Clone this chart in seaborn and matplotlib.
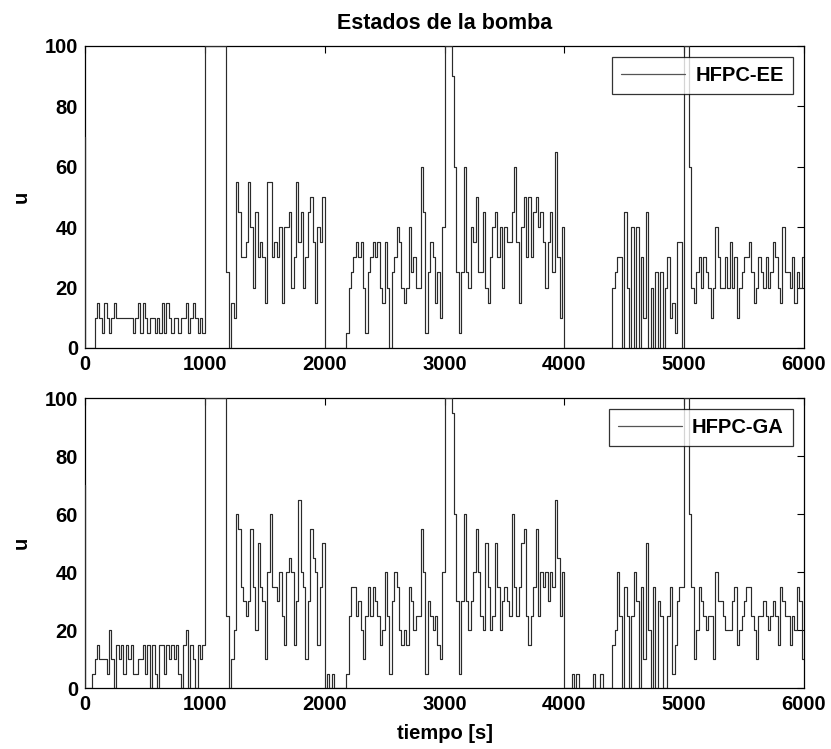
import numpy as np
import pandas as pd
import matplotlib
matplotlib.use('Agg')
import matplotlib.pyplot as plt
import seaborn as sns

# sample period [s] and value at t = 0 (both controllers start the same)
dt = 20
u_start = 70

# HFPC-EE, one list per 1000 s (value held over each 20 s step)
ee_0000 = [0, 0, 0, 0, 10, 15, 10, 5, 15, 10, 5, 10, 15, 10, 10, 10, 10, 10, 10, 10,
           5, 10, 15, 5, 15, 10, 5, 10, 10, 5, 10, 5, 15, 5, 15, 10, 5, 10, 10, 5,
           10, 10, 15, 5, 10, 15, 10, 5, 10, 5]
ee_1000 = [100, 100, 100, 100, 100, 100, 100, 100, 100, 25, 0, 15, 10, 55, 45, 30, 30, 35, 55, 40,
           20, 45, 30, 35, 30, 15, 55, 55, 30, 35, 30, 40, 15, 40, 40, 45, 20, 30, 55, 35,
           45, 20, 30, 45, 50, 35, 15, 40, 35, 50]
ee_2000 = [0, 0, 0, 0, 0, 0, 0, 0, 0, 5, 20, 25, 30, 35, 30, 35, 20, 5, 25, 30,
           35, 30, 35, 20, 15, 35, 20, 0, 25, 30, 40, 35, 20, 15, 20, 40, 25, 30, 20, 20,
           60, 45, 5, 25, 35, 30, 15, 25, 10, 40]
ee_3000 = [100, 100, 100, 90, 60, 25, 5, 25, 60, 25, 20, 40, 35, 50, 25, 25, 45, 20, 15, 30,
           40, 45, 30, 40, 20, 40, 35, 35, 45, 60, 35, 15, 40, 50, 30, 50, 30, 45, 50, 40,
           45, 35, 20, 35, 45, 25, 65, 30, 10, 40]
ee_4000 = [0, 0, 0, 0, 0, 0, 0, 0, 0, 0, 0, 0, 0, 0, 0, 0, 0, 0, 0, 0,
           20, 25, 30, 30, 0, 45, 20, 0, 40, 0, 40, 0, 30, 10, 45, 0, 20, 0, 25, 0,
           25, 0, 20, 30, 10, 15, 5, 35, 35, 0]
ee_5000 = [100, 100, 60, 20, 15, 25, 30, 20, 30, 25, 20, 10, 20, 40, 30, 20, 20, 30, 20, 35,
           20, 30, 10, 20, 25, 30, 30, 35, 25, 15, 20, 30, 25, 20, 30, 20, 25, 35, 30, 20,
           15, 40, 25, 25, 20, 30, 15, 25, 20, 30]

# HFPC-GA
ga_0000 = [0, 0, 0, 5, 10, 15, 10, 10, 10, 5, 20, 10, 0, 15, 10, 15, 5, 15, 10, 15,
           5, 5, 10, 10, 15, 5, 15, 0, 15, 5, 0, 15, 15, 5, 15, 10, 15, 10, 15, 5,
           0, 15, 20, 0, 15, 10, 0, 15, 10, 15]
ga_1000 = [100, 100, 100, 100, 100, 100, 100, 100, 100, 25, 0, 10, 20, 60, 55, 35, 30, 25, 30, 55,
           35, 20, 50, 35, 30, 10, 40, 60, 35, 35, 30, 40, 25, 15, 40, 45, 40, 15, 30, 65,
           40, 35, 10, 30, 55, 45, 40, 15, 35, 50]
ga_2000 = [0, 5, 0, 5, 0, 0, 0, 0, 0, 5, 25, 35, 35, 25, 30, 20, 10, 25, 35, 25,
           35, 30, 25, 15, 20, 40, 25, 5, 30, 40, 35, 20, 15, 20, 15, 35, 30, 20, 25, 25,
           55, 40, 5, 30, 25, 20, 25, 15, 10, 40]
ga_3000 = [100, 100, 100, 95, 60, 30, 5, 30, 60, 30, 20, 30, 40, 55, 40, 25, 20, 50, 35, 20,
           25, 50, 35, 20, 30, 35, 30, 25, 60, 35, 25, 35, 50, 55, 25, 15, 25, 35, 55, 25,
           40, 35, 40, 30, 40, 35, 65, 45, 25, 40]
ga_4000 = [0, 0, 0, 5, 0, 5, 0, 0, 0, 0, 0, 0, 5, 0, 0, 5, 0, 0, 0, 0,
           15, 20, 40, 25, 0, 35, 25, 0, 25, 40, 30, 0, 35, 10, 50, 20, 0, 35, 0, 30,
           25, 0, 0, 25, 35, 5, 15, 30, 35, 35]
ga_5000 = [100, 100, 60, 35, 10, 20, 35, 30, 25, 20, 25, 25, 10, 40, 30, 30, 25, 20, 20, 20,
           30, 35, 15, 20, 25, 30, 35, 35, 25, 20, 10, 25, 25, 30, 25, 20, 25, 30, 25, 15,
           35, 30, 25, 25, 15, 25, 20, 35, 30, 10]

series = {
    'HFPC-EE': [ee_0000, ee_1000, ee_2000, ee_3000, ee_4000, ee_5000],
    'HFPC-GA': [ga_0000, ga_1000, ga_2000, ga_3000, ga_4000, ga_5000],
}


def to_frame(segments):
    u = [u_start] + [v for seg in segments for v in seg]
    return pd.DataFrame({'t': np.arange(len(u)) * dt, 'u': u})


sns.set_style('white')
plt.rcParams['font.family'] = ['Liberation Sans', 'DejaVu Sans']
plt.rcParams['font.weight'] = 'bold'
plt.rcParams['axes.labelweight'] = 'bold'
plt.rcParams['axes.titleweight'] = 'bold'
plt.rcParams['text.color'] = 'black'
plt.rcParams['axes.labelcolor'] = 'black'

fs = 14.5

fig = plt.figure(figsize=(8.31, 7.49), dpi=100)
ax_top = fig.add_axes([0.1023, 0.5354, 0.8652, 0.4032])
ax_bot = fig.add_axes([0.1023, 0.0814, 0.8652, 0.3872])

for ax, (name, segs) in zip([ax_top, ax_bot], series.items()):
    df = to_frame(segs)
    sns.lineplot(data=df, x='t', y='u', ax=ax, estimator=None, sort=False,
                 drawstyle='steps-pre', color='#2b2b2b', linewidth=0.85, label=name,
                 zorder=3)

    ax.set_xlim(0, 6000)
    ax.set_ylim(0, 100)
    ax.set_xticks(range(0, 6001, 1000))
    ax.set_yticks(range(0, 101, 20))
    ax.tick_params(direction='in', top=True, right=True, length=5, width=0.8,
                   labelsize=fs, pad=5, colors='black')
    for s in ax.spines.values():
        s.set_color('black')
        s.set_linewidth(0.9)
    ax.set_ylabel('u', fontsize=fs, labelpad=10)
    ax.set_xlabel('')

    leg = ax.legend(loc='upper right', fontsize=fs, frameon=True, fancybox=False,
                    handlelength=3.2, handletextpad=0.5, borderaxespad=0.55,
                    borderpad=0.45)
    leg.get_frame().set_edgecolor('black')
    leg.get_frame().set_linewidth(0.9)
    for line in leg.get_lines():
        line.set_color('#555555')
        line.set_linewidth(0.9)

ax_top.set_title('Estados de la bomba', fontsize=15.5, pad=12, color='black')
ax_bot.set_xlabel('tiempo [s]', fontsize=fs, labelpad=7)

fig.savefig('out.png', dpi=100)
